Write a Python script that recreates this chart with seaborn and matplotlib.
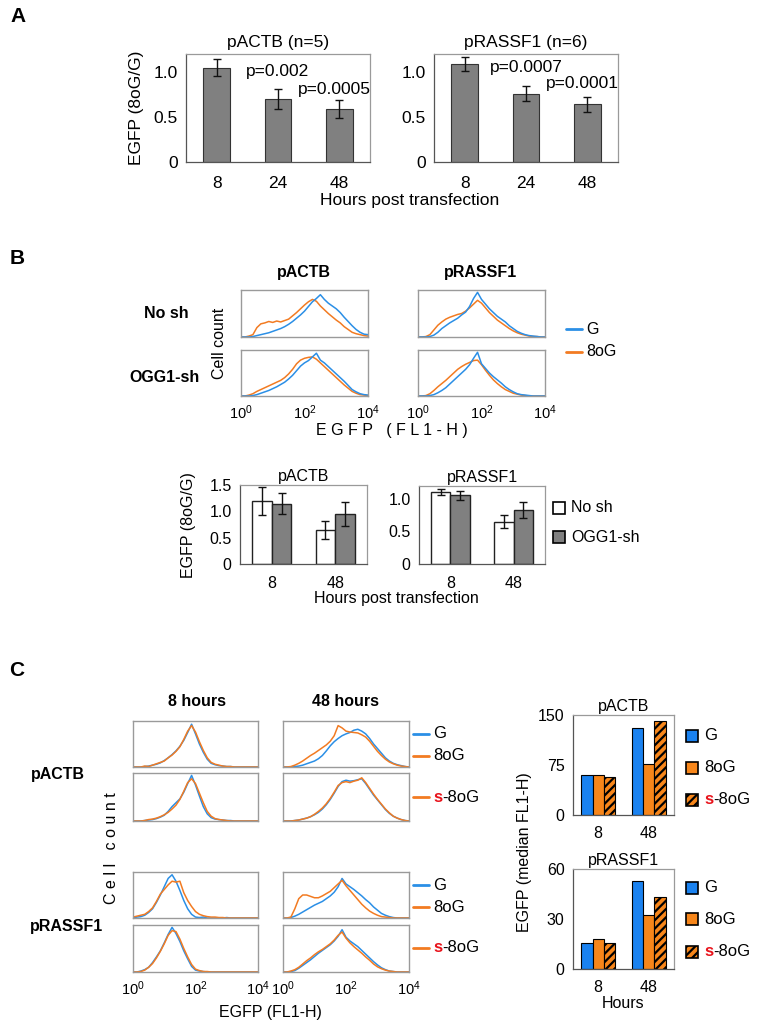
import numpy as np
import pandas as pd
import matplotlib
matplotlib.use("Agg")
import matplotlib.pyplot as plt
import seaborn as sns
from matplotlib.patches import Rectangle
from matplotlib.lines import Line2D

sns.set_theme(style="white")
plt.rcParams["font.family"] = ["Liberation Sans", "DejaVu Sans"]
plt.rcParams["mathtext.fontset"] = "custom"
plt.rcParams["mathtext.rm"] = "Liberation Sans"
plt.rcParams["mathtext.it"] = "Liberation Sans:italic"
plt.rcParams["hatch.linewidth"] = 1.6
for key in ["text.color", "axes.labelcolor", "xtick.color", "ytick.color"]:
    plt.rcParams[key] = "black"

# ---------------- data ----------------
# panel A: EGFP ratio 8oG/G
hours_a = ["8", "24", "48"]
actb_a = [1.05, 0.70, 0.59]
actb_a_err = [0.09, 0.11, 0.10]
rassf_a = [1.09, 0.76, 0.64]
rassf_a_err = [0.08, 0.08, 0.08]
pval_actb = ["p=0.002", "p=0.0005"]
pval_rassf = ["p=0.0007", "p=0.0001"]

# panel B bars: No sh vs OGG1-sh
hours_b = ["8", "48"]
sh_levels = ["No sh", "OGG1-sh"]
actb_b = {"No sh": [1.20, 0.65], "OGG1-sh": [1.14, 0.95]}
actb_b_err = {"No sh": [0.27, 0.17], "OGG1-sh": [0.20, 0.23]}
rassf_b = {"No sh": [1.11, 0.65], "OGG1-sh": [1.06, 0.83]}
rassf_b_err = {"No sh": [0.05, 0.10], "OGG1-sh": [0.07, 0.12]}

# panel C bars: median FL1-H
hours_c = ["8", "48"]
oligo_levels = ["G", "8oG", "s-8oG"]
actb_c = {"G": [60, 130], "8oG": [60, 76], "s-8oG": [57, 141]}
rassf_c = {"G": [15.6, 52.8], "8oG": [18.0, 32.4], "s-8oG": [15.6, 43.2]}

# flow histograms, log10(FL1-H) grid and normalised cell counts
log_fl = [0, 0.125, 0.25, 0.375, 0.5, 0.625, 0.75, 0.875, 1, 1.125, 1.25, 1.375,
          1.5, 1.625, 1.75, 1.875, 2, 2.125, 2.25, 2.375, 2.5, 2.625, 2.75,
          2.875, 3, 3.125, 3.25, 3.375, 3.5, 3.625, 3.75, 3.875, 4]

b_actb_nosh_g = [0, 0, 0, 0.01, 0.03, 0.05, 0.07, 0.09, 0.12, 0.15, 0.18, 0.22, 0.27, 0.33, 0.40, 0.47,
                 0.55, 0.65, 0.75, 0.82, 0.90, 0.80, 0.72, 0.66, 0.60, 0.52, 0.42, 0.33, 0.24, 0.16, 0.10, 0.06, 0.05]
b_actb_nosh_o = [0, 0, 0.02, 0.05, 0.20, 0.28, 0.30, 0.33, 0.31, 0.34, 0.32, 0.35, 0.38, 0.45, 0.52, 0.60,
                 0.68, 0.75, 0.80, 0.76, 0.66, 0.58, 0.50, 0.43, 0.36, 0.30, 0.22, 0.16, 0.10, 0.07, 0.05, 0.03, 0.02]
b_rassf_nosh_g = [0, 0, 0, 0.01, 0.04, 0.10, 0.18, 0.24, 0.30, 0.35, 0.40, 0.47, 0.53, 0.65, 0.82, 0.95,
                  0.80, 0.70, 0.60, 0.52, 0.44, 0.38, 0.32, 0.24, 0.18, 0.12, 0.08, 0.05, 0.03, 0.02, 0.01, 0, 0]
b_rassf_nosh_o = [0, 0, 0.01, 0.05, 0.15, 0.25, 0.32, 0.38, 0.42, 0.45, 0.48, 0.50, 0.55, 0.62, 0.70, 0.78,
                  0.72, 0.62, 0.52, 0.44, 0.36, 0.30, 0.24, 0.18, 0.13, 0.09, 0.06, 0.04, 0.02, 0.01, 0.01, 0, 0]
b_actb_ogg_g = [0, 0, 0, 0.01, 0.03, 0.06, 0.09, 0.12, 0.16, 0.20, 0.25, 0.30, 0.37, 0.45, 0.55, 0.65,
                0.72, 0.77, 0.85, 0.93, 0.78, 0.72, 0.64, 0.56, 0.48, 0.40, 0.32, 0.23, 0.14, 0.09, 0.05, 0.03, 0.02]
b_actb_ogg_o = [0, 0, 0.02, 0.05, 0.10, 0.14, 0.18, 0.22, 0.26, 0.30, 0.34, 0.40, 0.48, 0.58, 0.70, 0.78,
                0.82, 0.84, 0.85, 0.80, 0.72, 0.64, 0.56, 0.48, 0.40, 0.32, 0.24, 0.17, 0.10, 0.06, 0.03, 0.02, 0.01]
b_rassf_ogg_g = [0, 0, 0, 0.01, 0.03, 0.07, 0.12, 0.18, 0.26, 0.34, 0.42, 0.50, 0.58, 0.68, 0.82, 0.95,
                 0.70, 0.60, 0.50, 0.42, 0.35, 0.28, 0.20, 0.14, 0.09, 0.05, 0.03, 0.02, 0.01, 0, 0, 0, 0]
b_rassf_ogg_o = [0, 0, 0.01, 0.05, 0.12, 0.20, 0.27, 0.34, 0.42, 0.50, 0.58, 0.64, 0.69, 0.73, 0.77, 0.78,
                 0.68, 0.56, 0.45, 0.35, 0.27, 0.20, 0.14, 0.10, 0.06, 0.04, 0.02, 0.01, 0, 0, 0, 0, 0]

c_actb8_top_g = [0, 0, 0, 0.01, 0.02, 0.04, 0.06, 0.09, 0.14, 0.20, 0.27, 0.35, 0.45, 0.58, 0.75, 0.93,
                 0.72, 0.50, 0.32, 0.17, 0.08, 0.05, 0.03, 0.02, 0.01, 0.01, 0, 0, 0, 0, 0, 0, 0]
c_actb8_top_o = [0, 0, 0, 0.02, 0.01, 0.04, 0.07, 0.10, 0.13, 0.20, 0.26, 0.34, 0.44, 0.60, 0.78, 0.90,
                 0.76, 0.55, 0.36, 0.20, 0.10, 0.06, 0.04, 0.02, 0.01, 0.01, 0, 0, 0, 0, 0, 0, 0]
c_actb8_bot_g = [0, 0, 0, 0.01, 0.02, 0.03, 0.05, 0.08, 0.12, 0.20, 0.30, 0.38, 0.46, 0.60, 0.78, 0.95,
                 0.75, 0.52, 0.30, 0.15, 0.07, 0.04, 0.03, 0.02, 0.01, 0.01, 0, 0, 0, 0, 0, 0, 0]
c_actb8_bot_o = [0, 0, 0, 0.01, 0.03, 0.04, 0.06, 0.09, 0.13, 0.18, 0.25, 0.33, 0.45, 0.62, 0.80, 0.88,
                 0.78, 0.58, 0.38, 0.20, 0.10, 0.05, 0.03, 0.02, 0.01, 0, 0, 0, 0, 0, 0, 0, 0]
c_actb48_top_g = [0, 0, 0, 0.01, 0.02, 0.04, 0.07, 0.10, 0.13, 0.18, 0.25, 0.35, 0.46, 0.55, 0.62, 0.68,
                  0.72, 0.75, 0.80, 0.82, 0.78, 0.72, 0.62, 0.50, 0.40, 0.30, 0.20, 0.13, 0.08, 0.05, 0.03, 0.01, 0]
c_actb48_top_o = [0, 0, 0.01, 0.04, 0.08, 0.13, 0.19, 0.25, 0.30, 0.36, 0.42, 0.48, 0.56, 0.68, 0.90, 0.85,
                  0.78, 0.76, 0.75, 0.74, 0.70, 0.65, 0.56, 0.45, 0.34, 0.25, 0.17, 0.11, 0.07, 0.04, 0.02, 0.01, 0]
c_actb48_bot_g = [0, 0, 0, 0.01, 0.02, 0.04, 0.06, 0.09, 0.13, 0.18, 0.25, 0.34, 0.45, 0.58, 0.72, 0.82,
                  0.85, 0.83, 0.84, 0.86, 0.88, 0.78, 0.66, 0.54, 0.44, 0.34, 0.24, 0.16, 0.10, 0.06, 0.03, 0.01, 0]
c_actb48_bot_o = [0, 0, 0, 0.01, 0.02, 0.04, 0.06, 0.09, 0.14, 0.20, 0.27, 0.36, 0.47, 0.60, 0.74, 0.80,
                  0.82, 0.80, 0.83, 0.85, 0.90, 0.80, 0.68, 0.56, 0.45, 0.35, 0.25, 0.17, 0.10, 0.06, 0.03, 0.01, 0]
c_rassf8_top_g = [0, 0.02, 0.03, 0.06, 0.12, 0.20, 0.34, 0.50, 0.68, 0.86, 0.94, 0.80, 0.60, 0.38, 0.20, 0.08,
                  0.02, 0.01, 0.02, 0, 0, 0, 0, 0, 0.01, 0, 0, 0, 0, 0, 0, 0, 0]
c_rassf8_top_o = [0.02, 0.04, 0.06, 0.08, 0.14, 0.22, 0.36, 0.52, 0.62, 0.72, 0.80, 0.78, 0.80, 0.55, 0.38, 0.25,
                  0.14, 0.08, 0.05, 0.03, 0.02, 0.02, 0.01, 0.01, 0, 0, 0, 0, 0, 0, 0, 0, 0]
c_rassf8_bot_g = [0, 0, 0.02, 0.05, 0.10, 0.20, 0.32, 0.45, 0.62, 0.80, 0.95, 0.82, 0.65, 0.45, 0.28, 0.12,
                  0.04, 0.02, 0.01, 0, 0, 0, 0, 0, 0, 0, 0, 0, 0, 0, 0, 0, 0]
c_rassf8_bot_o = [0, 0, 0.01, 0.04, 0.10, 0.18, 0.30, 0.44, 0.60, 0.78, 0.88, 0.86, 0.70, 0.50, 0.32, 0.16,
                  0.06, 0.03, 0.01, 0.01, 0, 0, 0, 0, 0, 0, 0, 0, 0, 0, 0, 0, 0]
c_rassf48_top_g = [0, 0, 0.01, 0.04, 0.08, 0.13, 0.18, 0.23, 0.28, 0.32, 0.36, 0.42, 0.48, 0.56, 0.68, 0.86,
                   0.74, 0.68, 0.62, 0.55, 0.48, 0.40, 0.33, 0.24, 0.17, 0.10, 0.06, 0.03, 0.01, 0, 0, 0, 0]
c_rassf48_top_o = [0, 0, 0.02, 0.20, 0.42, 0.50, 0.50, 0.47, 0.44, 0.44, 0.48, 0.53, 0.58, 0.66, 0.74, 0.82,
                   0.70, 0.60, 0.50, 0.40, 0.30, 0.22, 0.15, 0.10, 0.06, 0.03, 0.02, 0.01, 0, 0, 0, 0, 0]
c_rassf48_bot_g = [0, 0, 0.01, 0.03, 0.08, 0.14, 0.20, 0.26, 0.33, 0.40, 0.46, 0.52, 0.58, 0.66, 0.76, 0.90,
                   0.74, 0.66, 0.60, 0.54, 0.46, 0.38, 0.30, 0.22, 0.15, 0.09, 0.05, 0.02, 0.01, 0, 0, 0, 0]
c_rassf48_bot_o = [0, 0, 0.02, 0.05, 0.10, 0.17, 0.24, 0.30, 0.37, 0.43, 0.48, 0.54, 0.60, 0.68, 0.78, 0.85,
                   0.72, 0.62, 0.54, 0.47, 0.40, 0.32, 0.25, 0.17, 0.11, 0.07, 0.04, 0.02, 0.01, 0, 0, 0, 0]

BLUE_LINE = "#2b8fe6"
ORANGE_LINE = "#f27b22"
BLUE_BAR = "#1a82f0"
ORANGE_BAR = "#f7861a"
GREY_BAR = "#808080"

W, H = 761, 1026
fig = plt.figure(figsize=(W / 100, H / 100), dpi=100)
fig.patch.set_facecolor("white")


def add_ax(x0, y0, x1, y1):
    return fig.add_axes([x0 / W, 1 - y1 / H, (x1 - x0) / W, (y1 - y0) / H])


def label(x, y, s, **kw):
    kw.setdefault("ha", "center")
    kw.setdefault("va", "center")
    return fig.text(x / W, 1 - y / H, s, **kw)


def excel_style(ax, cats, ylim, yticks, yticklabels, fs, pad):
    n = len(cats)
    ax.set_xlim(-0.5, n - 0.5)
    ax.set_ylim(*ylim)
    ax.set_xticks(range(n), cats)
    ax.set_xticks(np.arange(-0.5, n), minor=True)
    ax.set_yticks(yticks, yticklabels)
    ax.tick_params(axis="x", which="major", length=0, pad=pad, labelsize=fs, labelcolor="black")
    ax.tick_params(axis="x", which="minor", length=4, width=0.8, color="#555555", direction="out")
    ax.tick_params(axis="y", length=4, width=0.8, color="#555555", direction="out",
                   pad=2, labelsize=fs, labelcolor="black")
    for side in ["top", "right"]:
        ax.spines[side].set_color("#9a9a9a")
        ax.spines[side].set_linewidth(0.9)
    for side in ["left", "bottom"]:
        ax.spines[side].set_color("#555555")
        ax.spines[side].set_linewidth(0.9)
    ax.set_xlabel("")
    ax.set_ylabel("")


def add_errors(ax, errs_by_container):
    for cont, errs in zip(ax.containers, errs_by_container):
        for bar, e in zip(cont, errs):
            ax.errorbar(bar.get_x() + bar.get_width() / 2, bar.get_height(), yerr=e,
                        fmt="none", ecolor="#111111", elinewidth=1.0, capsize=3, capthick=1.0)


def hist_ax(box, g_vals, o_vals, bottom_row, blue_on_top, fs):
    ax = add_ax(*box)
    ax.set_xscale("log")
    xs = 10 ** np.array(log_fl)
    order = [(o_vals, ORANGE_LINE), (g_vals, BLUE_LINE)]
    if not blue_on_top:
        order = order[::-1]
    for vals, col in order:
        sns.lineplot(x=xs, y=vals, ax=ax, color=col, linewidth=1.1)
    ax.set_xlim(1, 1e4)
    ax.set_ylim(0, 1.0)
    ax.set_xticks([1, 100, 1e4])
    ax.set_yticks([0.2, 0.4, 0.6, 0.8], [])
    ax.tick_params(axis="both", which="both", direction="in", length=2, width=0.6, color="#999999")
    ax.tick_params(axis="x", which="major", labelsize=fs, pad=5, labelcolor="black")
    if not bottom_row:
        ax.set_xticklabels([])
    for sp in ax.spines.values():
        sp.set_color("#9a9a9a")
        sp.set_linewidth(1.0)
    ax.set_xlabel("")
    ax.set_ylabel("")
    return ax


def line_key(x, y, col, text, fs, red_s=False):
    fig.add_artist(Line2D([x / W, (x + 16) / W], [1 - y / H, 1 - y / H], color=col,
                          linewidth=2, transform=fig.transFigure))
    write_key_text(x + 20, y, text, fs, red_s)


def box_key(x, y, col, text, fs, hatch=None, red_s=False):
    fig.add_artist(Rectangle((x / W, 1 - (y + 6) / H), 12 / W, 12 / H, facecolor=col,
                             edgecolor="black", linewidth=1.2, hatch=hatch,
                             transform=fig.transFigure))
    write_key_text(x + 18, y, text, fs, red_s)


def write_key_text(x, y, text, fs, red_s):
    if red_s:
        s = label(x, y, "s", ha="left", fontsize=fs, color="#e8141c", fontweight="bold")
        fig.canvas.draw()
        ext = s.get_window_extent()
        fig.text(ext.x1 / fig.dpi / fig.get_figwidth(), 1 - y / H, text, ha="left",
                 va="center", fontsize=fs)
    else:
        label(x, y, text, ha="left", fontsize=fs)


# ---------------- panel A ----------------
label(18, 17, "A", fontsize=15, fontweight="bold")
for box, vals, errs, title, pv in [
        ((186, 54, 370, 162), actb_a, actb_a_err, "pACTB (n=5)", pval_actb),
        ((434, 54, 618, 162), rassf_a, rassf_a_err, "pRASSF1 (n=6)", pval_rassf)]:
    ax = add_ax(*box)
    df = pd.DataFrame({"hours": hours_a, "ratio": vals})
    sns.barplot(data=df, x="hours", y="ratio", color=GREY_BAR, edgecolor="#333333",
                linewidth=0.8, width=0.43, errorbar=None, saturation=1, ax=ax)
    add_errors(ax, [errs])
    excel_style(ax, hours_a, (0, 1.2), [0, 0.5, 1.0], ["0", "0.5", "1.0"], 12.5, 10)
    ax.set_title(title, fontsize=12.5, pad=5)
    ax.text(1.0, vals[0] - 0.04, pv[0], ha="center", va="center", fontsize=12.5)
    ax.text(1.92, vals[1] + 0.11, pv[1], ha="center", va="center", fontsize=12.5)
label(137, 108, "EGFP (8oG/G)", rotation=90, fontsize=12.5)
label(410, 201, "Hours post transfection", fontsize=12.5)

# ---------------- panel B histograms ----------------
label(17, 258, "B", fontsize=15, fontweight="bold")
label(304, 273, "pACTB", fontsize=11.5, fontweight="bold")
label(481, 273, "pRASSF1", fontsize=11.5, fontweight="bold")
label(166, 313, "No sh", fontsize=11.5, fontweight="bold")
label(165, 377, "OGG1-sh", fontsize=11.5, fontweight="bold")
label(220, 343, "Cell count", rotation=90, fontsize=11.5)
hist_ax((241, 290, 368, 337), b_actb_nosh_g, b_actb_nosh_o, False, True, 10.5)
hist_ax((418, 290, 545, 337), b_rassf_nosh_g, b_rassf_nosh_o, False, True, 10.5)
hist_ax((241, 350, 368, 396), b_actb_ogg_g, b_actb_ogg_o, True, True, 10.5)
hist_ax((418, 350, 545, 396), b_rassf_ogg_g, b_rassf_ogg_o, True, True, 10.5)
label(392, 431, "E G F P   ( F L 1 - H )", fontsize=11.5)
line_key(566, 329, BLUE_LINE, "G", 11.5)
line_key(566, 352, ORANGE_LINE, "8oG", 11.5)

# ---------------- panel B bars ----------------
for box, vals, errs, title, ylim, ticks, tlabels in [
        ((240, 485, 367, 564), actb_b, actb_b_err, "pACTB", (0, 1.5),
         [0, 0.5, 1.0, 1.5], ["0", "0.5", "1.0", "1.5"]),
        ((419, 486, 545, 564), rassf_b, rassf_b_err, "pRASSF1", (0, 1.2),
         [0, 0.5, 1.0], ["0", "0.5", "1.0"])]:
    ax = add_ax(*box)
    df = pd.DataFrame({"hours": hours_b * 2,
                       "cond": [c for c in sh_levels for _ in hours_b],
                       "ratio": vals["No sh"] + vals["OGG1-sh"]})
    sns.barplot(data=df, x="hours", y="ratio", hue="cond", hue_order=sh_levels,
                palette={"No sh": "white", "OGG1-sh": GREY_BAR}, edgecolor="#222222",
                linewidth=1.0, width=0.62, errorbar=None, saturation=1, legend=False, ax=ax)
    add_errors(ax, [errs["No sh"], errs["OGG1-sh"]])
    excel_style(ax, hours_b, ylim, ticks, tlabels, 11.5, 9)
    ax.set_title(title, fontsize=11.5, pad=3)
label(189, 525, "EGFP (8oG/G)", rotation=90, fontsize=11.5)
label(396, 598, "Hours post transfection", fontsize=11.5)
box_key(553, 508, "white", "No sh", 11.5)
box_key(553, 537, GREY_BAR, "OGG1-sh", 11.5)

# ---------------- panel C histograms ----------------
label(17, 671, "C", fontsize=15, fontweight="bold")
label(197, 702, "8 hours", fontsize=11.5, fontweight="bold")
label(346, 702, "48 hours", fontsize=11.5, fontweight="bold")
label(58, 774, "pACTB", fontsize=11.5, fontweight="bold")
label(67, 927, "pRASSF1", fontsize=11.5, fontweight="bold")
label(112, 848, "C e l l   c o u n t", rotation=90, fontsize=11.5)
hist_ax((133, 721, 258, 767), c_actb8_top_g, c_actb8_top_o, False, False, 10.5)
hist_ax((283, 721, 409, 767), c_actb48_top_g, c_actb48_top_o, False, False, 10.5)
hist_ax((133, 773, 258, 821), c_actb8_bot_g, c_actb8_bot_o, False, False, 10.5)
hist_ax((283, 773, 409, 821), c_actb48_bot_g, c_actb48_bot_o, False, False, 10.5)
hist_ax((133, 872, 258, 918), c_rassf8_top_g, c_rassf8_top_o, False, False, 10.5)
hist_ax((283, 872, 409, 918), c_rassf48_top_g, c_rassf48_top_o, False, False, 10.5)
hist_ax((133, 925, 258, 972), c_rassf8_bot_g, c_rassf8_bot_o, True, False, 10.5)
hist_ax((283, 925, 409, 972), c_rassf48_bot_g, c_rassf48_bot_o, True, False, 10.5)
label(270, 1012, "EGFP (FL1-H)", fontsize=11.5)
for yg, yo, ys in [(734, 756, 797), (885, 907, 948)]:
    line_key(413, yg, BLUE_LINE, "G", 12)
    line_key(413, yo, ORANGE_LINE, "8oG", 12)
    line_key(413, ys, ORANGE_LINE, "-8oG", 12, red_s=True)

# ---------------- panel C bars ----------------
for box, vals, title, ylim, ticks in [
        ((573, 715, 674, 815), actb_c, "pACTB", (0, 150), [0, 75, 150]),
        ((573, 869, 674, 969), rassf_c, "pRASSF1", (0, 60), [0, 30, 60])]:
    ax = add_ax(*box)
    df = pd.DataFrame({"hours": hours_c * 3,
                       "oligo": [o for o in oligo_levels for _ in hours_c],
                       "median": vals["G"] + vals["8oG"] + vals["s-8oG"]})
    sns.barplot(data=df, x="hours", y="median", hue="oligo", hue_order=oligo_levels,
                palette={"G": BLUE_BAR, "8oG": ORANGE_BAR, "s-8oG": ORANGE_BAR},
                edgecolor="black", linewidth=0.8, width=0.68, errorbar=None,
                saturation=1, legend=False, ax=ax)
    for bar in ax.containers[2]:
        bar.set_hatch("////")
    excel_style(ax, hours_c, ylim, ticks, [str(t) for t in ticks], 11.5, 8)
    ax.set_title(title, fontsize=11.5, pad=3)
label(525, 852, "EGFP (median FL1-H)", rotation=90, fontsize=11.5)
label(623, 1003, "Hours", fontsize=11.5)
for yg, yo, ys in [(736, 768, 800), (888, 919, 952)]:
    box_key(686, yg, BLUE_BAR, "G", 12)
    box_key(686, yo, ORANGE_BAR, "8oG", 12)
    box_key(686, ys, ORANGE_BAR, "-8oG", 12, hatch="////", red_s=True)

fig.savefig("out.png", dpi=100, facecolor="white")
